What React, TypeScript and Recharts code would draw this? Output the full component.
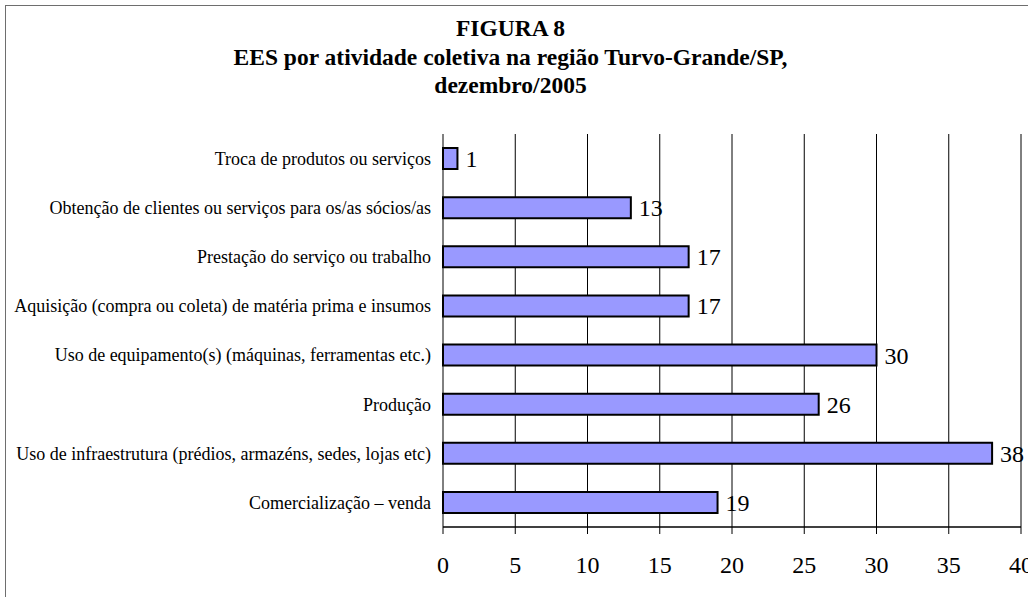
import React from 'react';
import { BarChart, Bar, XAxis, YAxis, CartesianGrid, LabelList } from 'recharts';

const categories = [
  'Troca de produtos ou serviços',
  'Obtenção de clientes ou serviços para os/as sócios/as',
  'Prestação do serviço ou trabalho',
  'Aquisição (compra ou coleta) de matéria prima e insumos',
  'Uso de equipamento(s) (máquinas, ferramentas etc.)',
  'Produção',
  'Uso de infraestrutura (prédios, armazéns, sedes, lojas etc)',
  'Comercialização – venda',
];
const values = [1, 13, 17, 17, 30, 26, 38, 19];
const xTicks = [0, 5, 10, 15, 20, 25, 30, 35, 40];
const bandTicks = [0, 1, 2, 3, 4, 5, 6, 7, 8];

const titleLines = ['FIGURA 8', 'EES por atividade coletiva na região Turvo-Grande/SP,', 'dezembro/2005'];

const data = categories.map((name, i) => ({ name, value: values[i] }));

const serif = '"Liberation Serif", "Times New Roman", serif';

const App: React.FC = () => {
  return (
    <div style={{ position: 'absolute', left: 0, top: 0, width: 1028, height: 597, overflow: 'hidden', background: '#fff', fontFamily: serif }}>
      <div style={{ position: 'absolute', left: 5, top: 5, width: 1100, height: 700, border: '1.5px solid #6e6e6e' }} />
      <div style={{ position: 'absolute', left: 0, top: 14, width: 1021, textAlign: 'center', fontWeight: 'bold', fontSize: 23.5, lineHeight: '28.5px' }}>
        {titleLines.map(t => (
          <div key={t}>{t}</div>
        ))}
      </div>
      <div style={{ position: 'absolute', left: 0, top: 0 }}>
        <BarChart
          layout="vertical"
          width={1028}
          height={597}
          data={data}
          margin={{ top: 134, right: 7, bottom: 0, left: 0 }}
          barCategoryGap={0}
        >
          <CartesianGrid horizontal={false} vertical stroke="#000" strokeWidth={1} />
          <XAxis
            type="number"
            domain={[0, 40]}
            ticks={xTicks}
            interval={0}
            height={70}
            axisLine={{ stroke: '#000', strokeWidth: 1.5 }}
            tickLine={{ stroke: '#000' }}
            tickSize={7}
            tick={{ fill: '#000', fontSize: 24, fontFamily: serif, dy: 20 }}
          />
          <XAxis xAxisId="top" type="number" orientation="top" domain={[0, 40]} height={0} tick={false} tickLine={false} axisLine={{ stroke: '#808080', strokeWidth: 2 }} />
          <YAxis
            type="category"
            dataKey="name"
            width={443}
            interval={0}
            axisLine={false}
            tickLine={false}
            tickMargin={6}
            tick={{ fill: '#000', fontSize: 18, fontFamily: serif }}
          />
          <YAxis
            yAxisId="bands"
            type="number"
            domain={[0, 8]}
            ticks={bandTicks}
            width={0}
            tick={false}
            tickSize={6}
            tickLine={{ stroke: '#000' }}
            axisLine={{ stroke: '#000', strokeWidth: 1.5 }}
          />
          <YAxis yAxisId="right" type="number" orientation="right" domain={[0, 8]} width={0} tick={false} tickLine={false} axisLine={{ stroke: '#808080', strokeWidth: 2 }} />
          <Bar dataKey="value" fill="#9999FF" stroke="#000" strokeWidth={2} barSize={21} isAnimationActive={false}>
            <LabelList dataKey="value" position="right" offset={8} fill="#000" fontSize={24} fontFamily={serif} />
          </Bar>
        </BarChart>
      </div>
    </div>
  );
};

export default App;
